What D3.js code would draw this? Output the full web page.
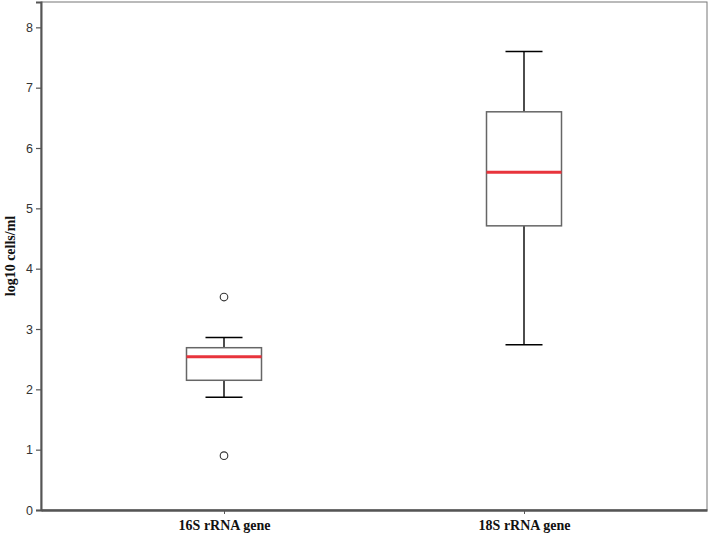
<!DOCTYPE html>
<html><head><meta charset="utf-8">
<script src="https://cdn.jsdelivr.net/npm/d3@7"></script>
<style>body{margin:0;background:#fff}svg{display:block}</style>
</head><body>
<script>
const categories = ["16S rRNA gene", "18S rRNA gene"];
const whiskerLow = [1.87, 2.74];
const q1 = [2.15, 4.71];
const median = [2.54, 5.60];
const q3 = [2.69, 6.60];
const whiskerHigh = [2.86, 7.60];
const outliers = [[3.53, 0.90], []];
const yTicks = [0, 1, 2, 3, 4, 5, 6, 7, 8];
const yTitle = "log10 cells/ml";

const W = 709, H = 538;
const m = {l: 41, r: 2, t: 2, b: 28};
const svg = d3.select("body").append("svg").attr("width", W).attr("height", H);
const x = d3.scalePoint().domain(categories).range([m.l, W - m.r]).padding(0.61);
const y = d3.scaleLinear().domain([0, 8.42]).range([H - m.b, m.t]);

svg.append("rect").attr("x", m.l).attr("y", m.t).attr("width", W - m.r - m.l).attr("height", H - m.b - m.t)
  .attr("fill", "none").attr("stroke", "#777").attr("stroke-width", 1);

const ya = svg.append("g").attr("transform", `translate(${m.l},0)`)
  .call(d3.axisLeft(y).tickValues(yTicks).tickSize(5).tickPadding(3).tickFormat(d3.format("d")));
ya.select(".domain").attr("stroke", "#555").attr("stroke-width", 2);
ya.selectAll(".tick line").attr("stroke", "#555").attr("stroke-width", 1.2);
ya.selectAll("text").attr("font-family", "Liberation Sans, Arial, sans-serif").attr("font-size", 12.5).attr("fill", "#333");

const xa = svg.append("g").attr("transform", `translate(0,${H - m.b})`)
  .call(d3.axisBottom(x).tickSize(4).tickPadding(6).tickSizeOuter(0));
xa.select(".domain").attr("stroke", "#555").attr("stroke-width", 2.5);
xa.selectAll(".tick line").attr("stroke", "#555").attr("stroke-width", 1);
xa.selectAll("text").attr("font-family", "Liberation Serif, Times New Roman, serif").attr("font-weight", "bold")
  .attr("font-size", 14).attr("fill", "#111");

svg.append("text").attr("transform", `translate(15,${(m.t + H - m.b) / 2}) rotate(-90)`)
  .attr("text-anchor", "middle").attr("font-family", "Liberation Serif, Times New Roman, serif")
  .attr("font-weight", "bold").attr("font-size", 14).attr("fill", "#111").text(yTitle);

const bw = 75, cw = 37;
categories.forEach((c, i) => {
  const cx = x(c);
  const g = svg.append("g");
  g.append("line").attr("x1", cx).attr("x2", cx).attr("y1", y(whiskerHigh[i])).attr("y2", y(q3[i])).attr("stroke", "#000").attr("stroke-width", 1.4);
  g.append("line").attr("x1", cx).attr("x2", cx).attr("y1", y(whiskerLow[i])).attr("y2", y(q1[i])).attr("stroke", "#000").attr("stroke-width", 1.4);
  g.append("line").attr("x1", cx - cw / 2).attr("x2", cx + cw / 2).attr("y1", y(whiskerHigh[i])).attr("y2", y(whiskerHigh[i])).attr("stroke", "#000").attr("stroke-width", 1.5);
  g.append("line").attr("x1", cx - cw / 2).attr("x2", cx + cw / 2).attr("y1", y(whiskerLow[i])).attr("y2", y(whiskerLow[i])).attr("stroke", "#000").attr("stroke-width", 1.5);
  g.append("rect").attr("x", cx - bw / 2).attr("y", y(q3[i])).attr("width", bw).attr("height", y(q1[i]) - y(q3[i]))
    .attr("fill", "#fff").attr("stroke", "#666").attr("stroke-width", 1.5);
  g.append("line").attr("x1", cx - bw / 2).attr("x2", cx + bw / 2).attr("y1", y(median[i])).attr("y2", y(median[i]))
    .attr("stroke", "#e8343c").attr("stroke-width", 3);
  outliers[i].forEach(v => {
    g.append("circle").attr("cx", cx).attr("cy", y(v)).attr("r", 3.8).attr("fill", "none").attr("stroke", "#333").attr("stroke-width", 1.1);
  });
});
</script>
</body></html>
